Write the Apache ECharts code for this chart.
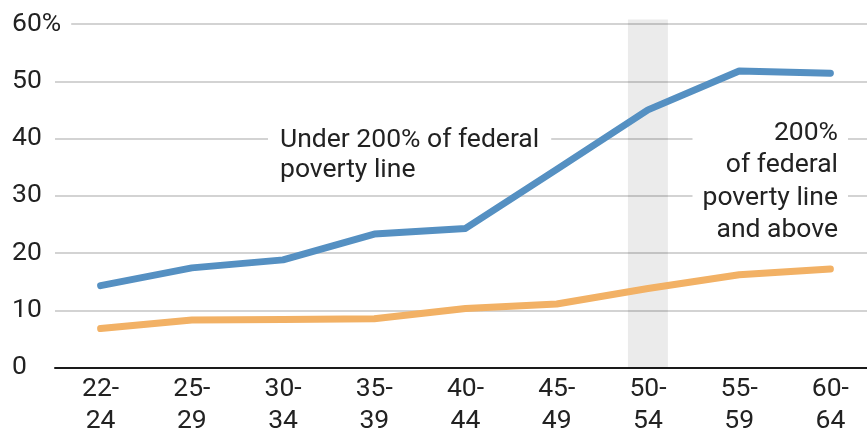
<!DOCTYPE html>
<html>
<head>
<meta charset="utf-8">
<script src="https://cdn.jsdelivr.net/npm/echarts@6/dist/echarts.min.js"></script>
<style>
  html, body { margin: 0; padding: 0; background: #fff; }
  #chart { width: 867px; height: 432px; }
</style>
</head>
<body>
<div id="chart"></div>
<script>
// age groups
const ageGroups = ['22-\n24', '25-\n29', '30-\n34', '35-\n39', '40-\n44', '45-\n49', '50-\n54', '55-\n59', '60-\n64']
// share, in percent
const underPoverty = [14.3, 17.4, 18.8, 23.3, 24.3, 34.6, 45.0, 51.8, 51.4]
const abovePoverty = [6.8, 8.3, 8.4, 8.5, 10.3, 11.1, 13.8, 16.2, 17.2]
// shaded age group
const highlight = [null, null, null, null, null, null, 60.8, null, null]
const yTicks = [0, 10, 20, 30, 40, 50, 60]

const FONT = 'Roboto, "Liberation Sans", sans-serif'
const FS = 26.5
const chart = echarts.init(document.getElementById('chart'))

const option = {
  animation: false,
  textStyle: { fontFamily: FONT },
  grid: { left: 55, top: 24, width: 821, bottom: 64.5, containLabel: false, outerBoundsMode: 'none' },
  xAxis: {
    type: 'category',
    data: ageGroups,
    boundaryGap: true,
    axisLine: { lineStyle: { color: '#1a1a1a', width: 2 } },
    axisTick: { alignWithLabel: true, inside: true, length: 8, lineStyle: { color: '#1a1a1a', width: 2 } },
    axisLabel: { fontSize: FS, lineHeight: 32, color: '#222', margin: 6, fontFamily: FONT }
  },
  yAxis: {
    type: 'value',
    min: yTicks[0],
    max: yTicks[yTicks.length - 1],
    interval: 10,
    axisLine: { show: false },
    axisTick: { show: false },
    splitLine: { lineStyle: { color: '#c4c4c4', width: 1.5 } },
    axisLabel: {
      align: 'left',
      margin: 43,
      fontSize: FS,
      color: '#222',
      fontFamily: FONT,
      formatter: v => v === 60 ? '{top|60%}' : String(v),
      rich: {
        top: { fontSize: FS, color: '#222', backgroundColor: '#fff', padding: [0, 10, 0, 0], fontFamily: FONT }
      }
    }
  },
  graphic: [
    {
      type: 'text', x: 268, y: 125, z: 1,
      style: {
        text: 'Under 200% of federal\npoverty line',
        font: FS + 'px ' + FONT, lineHeight: 30, fill: '#222',
        align: 'left', verticalAlign: 'top',
        backgroundColor: '#fff', padding: [0, 12, 0, 12]
      }
    },
    {
      type: 'text', x: 848, y: 117, z: 1,
      style: {
        text: '200%\nof federal\npoverty line\nand above',
        font: FS + 'px ' + FONT, lineHeight: 32.5, fill: '#222',
        align: 'right', verticalAlign: 'top',
        backgroundColor: '#fff', padding: [0, 10, 0, 10]
      }
    }
  ],
  series: [
    {
      name: 'band',
      type: 'bar',
      data: highlight,
      barWidth: 40,
      clip: false,
      silent: true,
      z: 1,
      itemStyle: { color: 'rgba(0,0,0,0.08)' }
    },
    {
      name: 'Under 200% of federal poverty line',
      type: 'line',
      data: underPoverty,
      symbol: 'none',
      z: 5,
      lineStyle: { color: '#5590c2', width: 7, cap: 'round', join: 'round' }
    },
    {
      name: '200% of federal poverty line and above',
      type: 'line',
      data: abovePoverty,
      symbol: 'none',
      z: 5,
      lineStyle: { color: '#f2b165', width: 7, cap: 'round', join: 'round' }
    }
  ]
}

chart.setOption(option)
</script>
</body>
</html>
